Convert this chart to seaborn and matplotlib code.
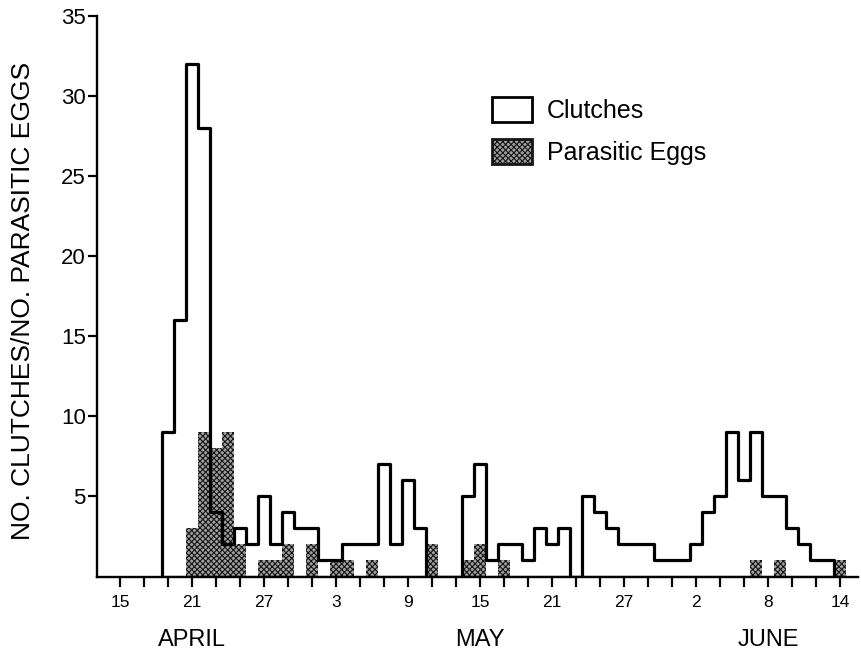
import matplotlib
matplotlib.use("Agg")
import matplotlib.pyplot as plt
import seaborn as sns
from matplotlib.patches import Patch

# Day index: 0 = 15 April
clutch_days = [4, 5, 6, 7, 8, 9, 10, 11, 12, 13, 14, 15, 16, 17, 18, 19, 20, 21, 22, 23,
               24, 25, 26, 27, 28, 29, 30, 31, 32, 33, 34, 35, 36, 37, 38, 39, 40, 41, 42,
               43, 44, 45, 46, 47, 48, 49, 50, 51, 52, 53, 54, 55, 56, 57, 58, 59, 60]
clutch_counts = [9, 16, 32, 28, 4, 2, 3, 2, 5, 2, 4, 3, 3, 1, 1, 2, 2, 2, 7, 2,
                 6, 3, 0, 0, 0, 5, 7, 1, 2, 2, 1, 3, 2, 3, 0, 5, 4, 3, 2,
                 2, 2, 1, 1, 1, 2, 4, 5, 9, 6, 9, 5, 5, 3, 2, 1, 1, 0]

egg_days = [6, 7, 8, 9, 10, 12, 13, 14, 16, 18, 19, 21, 26, 29, 30, 32, 53, 55, 60]
egg_counts = [3, 9, 8, 9, 2, 1, 1, 2, 2, 1, 1, 1, 2, 1, 2, 1, 1, 1, 1]

tick_days = [0, 6, 12, 18, 24, 30, 36, 42, 48, 54, 60]
tick_labels = ["15", "21", "27", "3", "9", "15", "21", "27", "2", "8", "14"]
minor_days = [2, 4, 8, 10, 14, 16, 20, 22, 26, 28, 32, 34, 38, 40, 44, 46, 50, 52, 56, 58]
month_labels = ["APRIL", "MAY", "JUNE"]
month_days = [6, 30, 54]
y_ticks = [5, 10, 15, 20, 25, 30, 35]

sns.set_style("ticks")
plt.rcParams["font.family"] = ["Liberation Sans", "DejaVu Sans"]
plt.rcParams["text.color"] = "black"
plt.rcParams["axes.labelcolor"] = "black"
plt.rcParams["xtick.color"] = "black"
plt.rcParams["ytick.color"] = "black"
plt.rcParams["hatch.color"] = "#151515"
plt.rcParams["hatch.linewidth"] = 0.8

fig = plt.figure(figsize=(8.61, 6.55), dpi=100)
ax = fig.add_axes([97 / 861, 78.5 / 655, 761 / 861, 560.8 / 655])

# parasitic eggs (stippled bars)
sns.histplot(x=egg_days, weights=egg_counts, discrete=True, element="bars",
             fill=True, shrink=1, color="#a0a0a0", edgecolor="#151515",
             linewidth=0, hatch="xxxxxx", alpha=1, ax=ax, zorder=2)

# clutches (outline step)
sns.histplot(x=clutch_days, weights=clutch_counts, discrete=True, element="step",
             fill=True, color="black", facecolor="none", edgecolor="black",
             linewidth=2.3, ax=ax, zorder=3)

ax.set_xlim(-1.92, 61.5)
ax.set_ylim(0, 35)
for s in ["top", "right"]:
    ax.spines[s].set_visible(False)
for s in ["left", "bottom"]:
    ax.spines[s].set_linewidth(1.7)
    ax.spines[s].set_color("black")

ax.set_xticks(tick_days)
ax.set_xticklabels(tick_labels, fontsize=12.5)
ax.set_xticks(minor_days, minor=True)
ax.tick_params(axis="x", which="both", direction="out", length=7, width=1.6,
               color="black", labelcolor="black", pad=6)
ax.set_yticks(y_ticks)
ax.set_yticklabels([str(v) for v in y_ticks], fontsize=16)
ax.tick_params(axis="y", direction="out", length=6.5, width=1.6, color="black",
               labelcolor="black", pad=1.5)

ax.set_xlabel("")
ax.set_ylabel("NO. CLUTCHES/NO. PARASITIC EGGS", fontsize=19, color="black")
ax.yaxis.set_label_coords(-0.081, 0.492)

for lab, d in zip(month_labels, month_days):
    ax.text(d, -0.113, lab, transform=ax.get_xaxis_transform(), ha="center",
            va="center", fontsize=17, color="black")

handles = [Patch(facecolor="white", edgecolor="black", linewidth=2),
           Patch(facecolor="#a0a0a0", edgecolor="#151515", linewidth=2, hatch="xxxxxx")]
leg = fig.legend(handles, ["Clutches", "Parasitic Eggs"], loc="upper left",
                 bbox_to_anchor=(492 / 861, 1 - 97 / 655), frameon=False, fontsize=18,
                 handlelength=1.6, handleheight=1.15, handletextpad=0.6, labelspacing=0.65,
                 borderpad=0, borderaxespad=0)
for t in leg.get_texts():
    t.set_color("black")

fig.savefig("out.png", dpi=100)
